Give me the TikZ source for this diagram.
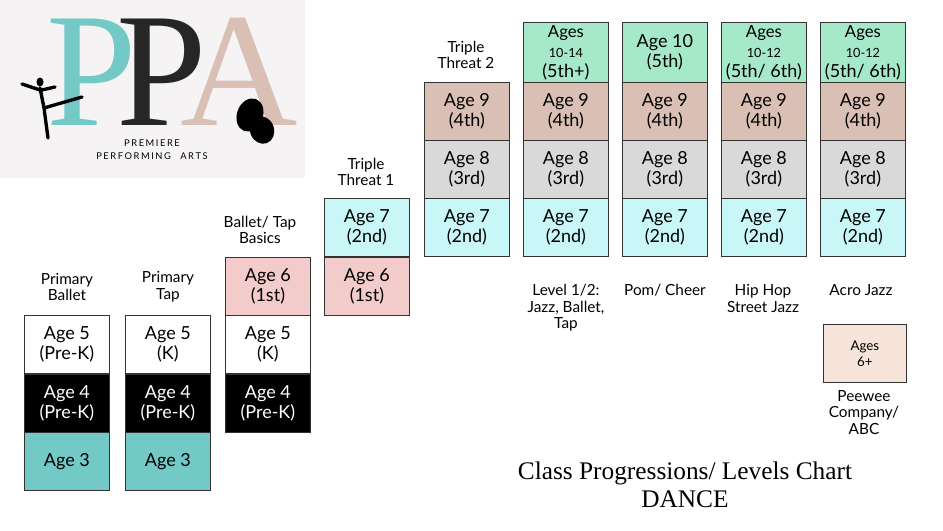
\documentclass[tikz,border=0pt]{standalone}
\usepackage{fontspec}
\setmainfont{Lato}
\newfontfamily\serifx{Liberation Serif}
\begin{document}
\begin{tikzpicture}[x=0.75pt,y=-0.75pt,
 bx/.style={draw=black!80,line width=0.6pt,minimum width=85*0.75pt,minimum height=58*0.75pt,anchor=north west,inner sep=0pt,align=center,font=\fontsize{13.5}{15}\selectfont},
 lbl/.style={align=center,font=\fontsize{11.5}{12.5}\selectfont,inner sep=0pt}]
\definecolor{teal3}{HTML}{72C9C6}
\definecolor{pinkb}{HTML}{F3CBCB}
\definecolor{cyanb}{HTML}{C9F6F6}
\definecolor{tanb}{HTML}{D9BFB4}
\definecolor{grayb}{HTML}{D9D9D9}
\definecolor{greenb}{HTML}{A6E9C8}
\definecolor{peach}{HTML}{F6E3DA}
\definecolor{logobg}{HTML}{F5F3F3}
\useasboundingbox (0,0) rectangle (943,531);
\fill[white] (0,0) rectangle (943,531);
% logo
\fill[logobg] (0,0) rectangle (305,178);
\node[anchor=base west,inner sep=0pt,text=teal3,font=\serifx\fontsize{122}{122}\selectfont] (p1) at (46,126) {P};
\node[anchor=base west,inner sep=0pt,text=black!85,font=\serifx\fontsize{122}{122}\selectfont] (p2) at (116,126) {P};
\node[anchor=base west,inner sep=0pt,text=tanb,font=\serifx\fontsize{122}{122}\selectfont] (pa) at (180,126) {A};
\node[inner sep=0pt,font=\fontsize{7}{8}\selectfont] (pr) at (152,143) {P\,R\,E\,M\,I\,E\,R\,E};
\node[inner sep=0pt,font=\fontsize{7}{8}\selectfont] (pf) at (152,156) {P\,E\,R\,F\,O\,R\,M\,I\,N\,G\quad A\,R\,T\,S};
\fill[black] (40,82) ellipse (3.5 and 4.5);
\draw[black,line width=2.5pt,line cap=round] (40,88) -- (44,108) -- (48,138) (44,108)--(82,97) (40,90)--(22,84) (42,90)--(55,87);
\fill[black,rotate around={-20:(250,115)}] (250,115) ellipse (13 and 17);
\fill[black,rotate around={20:(262,130)}] (262,130) ellipse (12 and 14);
% col1
\node[bx,fill=white] (a1) at (24,315) {Age 5\\(Pre-K)};
\node[bx,fill=black,text=white] (b1) at (24,374) {Age 4\\(Pre-K)};
\node[bx,fill=teal3] (c1) at (24,432) {Age 3};
\node[lbl] (l1) at (67,287) {Primary\\Ballet};
% col2
\node[bx,fill=white] (a2) at (125,315) {Age 5\\(K)};
\node[bx,fill=black,text=white] (b2) at (125,374) {Age 4\\(Pre-K)};
\node[bx,fill=teal3] (c2) at (125,432) {Age 3};
\node[lbl] (l2) at (168,287) {Primary\\Tap};
% col3
\node[bx,fill=pinkb] (a3) at (225,257) {Age 6\\(1st)};
\node[bx,fill=white] (b3) at (225,315) {Age 5\\(K)};
\node[bx,fill=black,text=white] (c3) at (225,374) {Age 4\\(Pre-K)};
\node[lbl] (l3) at (260,230) {Ballet/ Tap\\Basics};
% col4
\node[bx,fill=cyanb] (a4) at (324,198) {Age 7\\(2nd)};
\node[bx,fill=pinkb] (b4) at (324,257) {Age 6\\(1st)};
\node[lbl] (l4) at (366,172) {Triple\\Threat 1};
% col5
\node[bx,fill=tanb] (a5) at (424,82) {Age 9\\(4th)};
\node[bx,fill=grayb] (b5) at (424,140) {Age 8\\(3rd)};
\node[bx,fill=cyanb] (c5) at (424,198) {Age 7\\(2nd)};
\node[lbl] (l5) at (466,55) {Triple\\Threat 2};
% cols 6-9
\foreach \x/\g/\n in {523/{\fontsize{12.5}{12}\selectfont Ages\\\fontsize{9.5}{12}\selectfont 10-14\\(5th+)}/6,
  622/{Age 10\\(5th)}/7,
  721/{\fontsize{12.5}{12}\selectfont Ages\\\fontsize{9.5}{12}\selectfont 10-12\\(5th/ 6th)}/8,
  820/{\fontsize{12.5}{12}\selectfont Ages\\\fontsize{9.5}{12}\selectfont 10-12\\(5th/ 6th)}/9}{
 \node[bx,fill=greenb,minimum height=60*0.75pt] (g\n) at (\x,22) {\g};
 \node[bx,fill=tanb] (t\n) at (\x,82) {Age 9\\(4th)};
 \node[bx,fill=grayb] (r\n) at (\x,140) {Age 8\\(3rd)};
 \node[bx,fill=cyanb] (y\n) at (\x,198) {Age 7\\(2nd)};
}
\node[lbl,anchor=north] (l6) at (566,284) {Level 1/2:\\Jazz, Ballet,\\Tap};
\node[lbl,anchor=north] (l7) at (665,284) {Pom/ Cheer};
\node[lbl,anchor=north] (l8) at (763,284) {Hip Hop\\Street Jazz};
\node[lbl,anchor=north] (l9) at (861,284) {Acro Jazz};
\node[bx,fill=peach,minimum width=83*0.75pt,font=\fontsize{10}{12}\selectfont] (pw) at (823,324) {Ages\\6+};
\node[lbl,anchor=north] (lp) at (864,390) {Peewee\\Company/\\ABC};
\node[font=\serifx\fontsize{19}{21}\selectfont,align=center,inner sep=0pt] (title) at (685,485) {Class Progressions/ Levels Chart\\DANCE};
\end{tikzpicture}
\end{document}
